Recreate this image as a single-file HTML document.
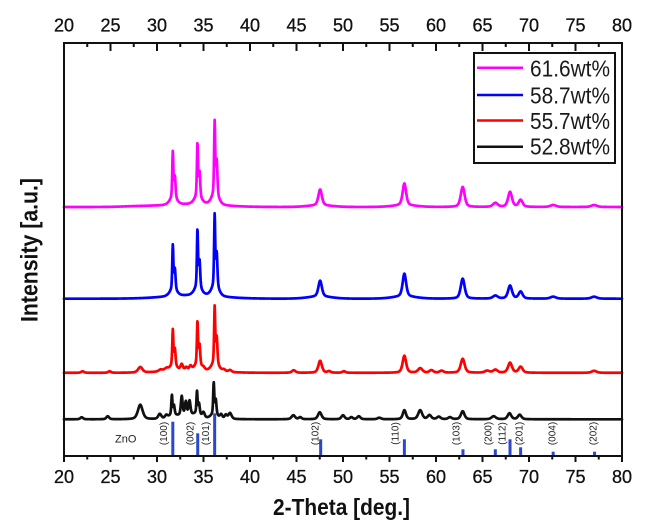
<!DOCTYPE html>
<html>
<head>
<meta charset="utf-8">
<style>
  html,body{margin:0;padding:0;background:#fff;}
  svg{display:block;}
  text{font-family:"Liberation Sans",Arial,sans-serif;}
</style>
</head>
<body>
<svg id="c" width="647" height="530" viewBox="0 0 647 530" xmlns="http://www.w3.org/2000/svg">
  <rect x="0" y="0" width="647" height="530" fill="#ffffff"/>
  <g id="curves" fill="none" stroke-width="2.7" stroke-linejoin="round" stroke-linecap="round">
    <path id="pm" stroke="#ff00ff" d=""/>
    <path id="pb" stroke="#0000ff" d=""/>
    <path id="pr" stroke="#ff0000" d=""/>
    <path id="pk" stroke="#111111" d=""/>
  </g>
  <g id="sticks" fill="#2a48cc"></g>
  <g id="hkl" font-size="10" fill="#222" text-anchor="middle"></g>
  <text x="115" y="442.7" font-size="11" fill="#222">ZnO</text>

  <!-- frame -->
  <rect x="64" y="43" width="558" height="413" fill="none" stroke="#111" stroke-width="2"/>
  <g id="ticks" stroke="#111" stroke-width="2"></g>
  <g id="tlab" font-size="18" fill="#111" stroke="#111" stroke-width="0.3" text-anchor="middle"></g>

  <!-- axis titles -->
  <text x="341.5" y="515" font-size="23" font-weight="bold" fill="#111" text-anchor="middle" textLength="137" lengthAdjust="spacingAndGlyphs">2-Theta [deg.]</text>
  <text transform="translate(37.5,250) rotate(-90)" font-size="24" font-weight="bold" fill="#111" text-anchor="middle" textLength="144" lengthAdjust="spacingAndGlyphs">Intensity [a.u.]</text>

  <!-- legend -->
  <rect x="474" y="53" width="141" height="110" fill="#fff" stroke="#111" stroke-width="2"/>
  <line x1="477" y1="67.7" x2="523" y2="67.7" stroke="#ff00ff" stroke-width="2.5"/>
  <line x1="477" y1="95" x2="523" y2="95" stroke="#0000ff" stroke-width="2.5"/>
  <line x1="477" y1="120.5" x2="523" y2="120.5" stroke="#ff0000" stroke-width="2.5"/>
  <line x1="477" y1="146.7" x2="523" y2="146.7" stroke="#111" stroke-width="2.5"/>
  <g font-size="23" fill="#1a1a1a">
    <text x="530" y="76.7" textLength="80" lengthAdjust="spacingAndGlyphs">61.6wt%</text>
    <text x="530" y="103.3" textLength="80" lengthAdjust="spacingAndGlyphs">58.7wt%</text>
    <text x="530" y="128.8" textLength="80" lengthAdjust="spacingAndGlyphs">55.7wt%</text>
    <text x="530" y="154.5" textLength="80" lengthAdjust="spacingAndGlyphs">52.8wt%</text>
  </g>
</svg>
<script>
(function(){
  var NS="http://www.w3.org/2000/svg";
  function X(t){return 64+(t-20)*9.3;}
  function pv(x,c,w,eta){
    if(eta===undefined)eta=0.5;
    var d=(x-c)/w;
    var g=Math.exp(-4*Math.LN2*d*d);
    var l=1/(1+4*d*d);
    return eta*l+(1-eta)*g;
  }
  function dbl(c,h){
    return [[c,0.85*h,0.14],[c+0.22,0.4*h,0.18],[c+0.05,0.12*h,0.9,0.3]];
  }
  function build(base,peaks){
    var d="";
    for(var i=0;i<=2000;i++){
      var t=20+i*0.03,y=0;
      for(var j=0;j<peaks.length;j++){var p=peaks[j];y+=p[1]*pv(t,p[0],p[2],p[3]);}
      d+=(i?"L":"M")+X(t).toFixed(2)+" "+(base-y).toFixed(2);
    }
    return d;
  }
  function cat(){var r=[];for(var i=0;i<arguments.length;i++){var a=arguments[i];if(typeof a[0]==="number")r.push(a);else r=r.concat(a);}return r;}

  var mag=cat(dbl(31.7,54),dbl(34.35,62),dbl(36.2,85),
    [33.8,2.5,7,0],[28,0.6,4,0],
    [47.54,16,0.45],[47.5,1.5,3,0],[56.6,22,0.45],[56.6,1.5,3,0],
    [62.87,20,0.5],[66.38,4,0.6],[67.96,15,0.5],[69.1,7,0.5],[72.6,2,0.7],[77,2,0.7]);
  var blu=cat(dbl(31.7,52),dbl(34.35,67),dbl(36.2,83),
    [33.8,3,7,0],
    [47.54,16,0.45],[47.5,2,3,0],[56.6,23,0.45],[56.6,2,3,0],
    [62.87,20,0.5],[66.38,3,0.6],[67.96,13,0.5],[69.1,7,0.5],[72.6,2,0.7],[77,2,0.7]);
  var red=cat([22,1.5,0.35],[24.9,1.5,0.35],[28.2,5.5,0.55],[30.4,2,0.5],[31.0,2.5,0.5],
    dbl(31.7,42),[32.66,6,0.3],[33.15,3,0.3],[33.6,4,0.3],
    dbl(34.35,50),[35.0,2,0.3],dbl(36.2,66),[37.2,2,0.4],[37.85,2,0.4],
    [33.5,2,6,0],
    [44.7,2.5,0.45],[47.54,12,0.45],[48.5,1.5,0.4],[50.1,1.5,0.4],
    [56.6,17,0.45],[58.3,4.5,0.55],[59.5,2.5,0.5],[60.6,2,0.5],
    [62.87,14,0.5],[65.5,2,0.6],[66.38,3,0.55],[67.96,10,0.5],[69.1,6,0.5],[77,2,0.6]);
  var blk=cat([21.9,2,0.35],[24.7,3,0.35],[28.2,14.5,0.6],[30.3,5,0.4],[31.0,3,0.35],
    dbl(31.6,23),[32.66,19,0.22],[33.1,13,0.22],[33.5,14,0.24],
    dbl(34.3,26),[35.0,5,0.3],dbl(36.1,37),
    [36.9,4,0.3],[37.4,4,0.3],[37.85,6,0.4],[33.2,4,2.5,0],
    [44.66,4,0.45],[45.4,2,0.35],[47.5,7,0.45],[50.0,4,0.4],[50.9,2,0.35],[51.7,3,0.4],[53.9,1.5,0.45],
    [56.6,9,0.4],[58.3,9,0.5],[59.3,4,0.45],[60.3,2.5,0.45],[61.5,2,0.45],
    [62.87,8,0.45],[66.2,3,0.55],[67.9,6,0.45],[69.0,4.5,0.45]);

  document.getElementById("pm").setAttribute("d",build(207,mag));
  document.getElementById("pb").setAttribute("d",build(298.7,blu));
  document.getElementById("pr").setAttribute("d",build(372.8,red));
  document.getElementById("pk").setAttribute("d",build(419.3,blk));

  // sticks
  var st=[[31.7,421.7],[34.38,433.3],[36.2,413.3],[47.6,439.3],[56.6,439.3],[62.9,449.3],
          [66.38,449.3],[67.96,439.3],[69.1,447.3],[72.6,451.7],[77.05,451.7]];
  var sg=document.getElementById("sticks");
  st.forEach(function(s){
    var r=document.createElementNS(NS,"rect");
    r.setAttribute("x",(X(s[0])-1.5).toFixed(2));
    r.setAttribute("y",s[1]);
    r.setAttribute("width",3);
    r.setAttribute("height",(456-s[1]).toFixed(2));
    sg.appendChild(r);
  });
  // hkl labels
  var hl=[["(100)",163.5],["(002)",190],["(101)",205.7],["(102)",315],["(110)",395],["(103)",456],
          ["(200)",488],["(112)",502],["(201)",519],["(004)",552],["(202)",593]];
  var hg=document.getElementById("hkl");
  hl.forEach(function(h){
    var t=document.createElementNS(NS,"text");
    t.setAttribute("transform","translate("+h[1]+",433.5) rotate(-90)");
    t.setAttribute("dy","0.35em");
    t.textContent=h[0];
    hg.appendChild(t);
  });
  // ticks
  var tg=document.getElementById("ticks"),lg=document.getElementById("tlab");
  for(var v=20;v<=80;v+=2.5){
    var x=X(v),major=(v%5===0);
    var l1=document.createElementNS(NS,"line");
    l1.setAttribute("x1",x);l1.setAttribute("x2",x);
    l1.setAttribute("y1",43);l1.setAttribute("y2",major?51:47);
    tg.appendChild(l1);
    var l2=document.createElementNS(NS,"line");
    l2.setAttribute("x1",x);l2.setAttribute("x2",x);
    l2.setAttribute("y1",456);l2.setAttribute("y2",major?462:459.5);
    tg.appendChild(l2);
    if(major){
      var a=document.createElementNS(NS,"text");
      a.setAttribute("x",x);a.setAttribute("y",31.7);a.textContent=String(v);lg.appendChild(a);
      var b=document.createElementNS(NS,"text");
      b.setAttribute("x",x);b.setAttribute("y",483);b.textContent=String(v);lg.appendChild(b);
    }
  }
})();
</script>
</body>
</html>
